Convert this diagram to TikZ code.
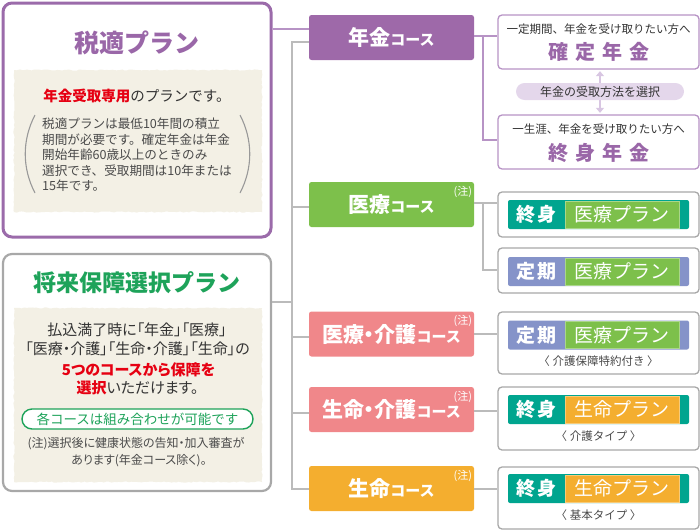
\documentclass[tikz,border=0pt]{standalone}
\usepackage{fontspec}
\setmainfont{Noto Sans CJK JP}
\newfontfamily\jpp{Noto Sans CJK JP}[RawFeature=+palt]
\usetikzlibrary{arrows.meta,decorations.pathmorphing}
\definecolor{pcourse}{HTML}{9E69A9}
\definecolor{pline}{HTML}{B793C5}
\definecolor{ptitle}{HTML}{9A67A8}
\definecolor{pframe}{HTML}{9B6BAA}
\definecolor{lav}{HTML}{E4D7EB}
\definecolor{lavarrow}{HTML}{D8C6E2}
\definecolor{gcourse}{HTML}{7DC04B}
\definecolor{teal}{HTML}{00A58F}
\definecolor{bviolet}{HTML}{8593C9}
\definecolor{pink}{HTML}{F0878A}
\definecolor{orange}{HTML}{F4AE2F}
\definecolor{beige}{HTML}{F3F0E5}
\definecolor{gline}{HTML}{BBBBBB}
\definecolor{gframe}{HTML}{A8A8A8}
\definecolor{gtitle}{HTML}{1EA35A}
\definecolor{jred}{HTML}{E60012}
\definecolor{txt}{HTML}{333333}
\definecolor{txtg}{HTML}{4A4A4A}
\newcommand\myfs[1]{\fontsize{#1}{#1}\selectfont}
\newcommand\jline[1]{\hbox to 191pt{#1}}
\begin{document}
\begin{tikzpicture}[x=1pt,y=-1pt,
  course/.style={fill=#1, rounded corners=2.5pt, minimum width=165pt, minimum height=45pt, inner sep=0pt, text=white, font=\bfseries},
  note/.style={text=white, font=\myfs{11}, inner sep=0pt, anchor=north east, xshift=-2pt, yshift=-4pt},
  rbox/.style={draw=#1, line width=1.3pt, fill=white, rounded corners=4pt, minimum width=201pt, inner sep=0pt},
  banner/.style={fill=#1, rounded corners=2pt, minimum width=181pt, minimum height=29pt, inner sep=0pt},
  inbox/.style={fill=#1, draw=#1!65!white, line width=0.7pt, minimum width=114pt, minimum height=27pt, inner sep=0pt, text=white, font=\myfs{19}},
  blab/.style={text=white, font=\bfseries\myfs{19}, inner sep=0pt},
  sub/.style={text=txtg, font=\myfs{11.5}, inner sep=0pt},
  plin/.style={draw=pline, line width=2pt},
  glin/.style={draw=gline, line width=2pt},
  rough/.style={fill=beige, decorate, decoration={random steps, segment length=2.5pt, amplitude=0.6pt}},
  paren/.style={draw=gray!80, line width=1.1pt}
]
\useasboundingbox (0,0) rectangle (700,530);
\pgfmathsetseed{7}

% ---------- connectors ----------
\coordinate (pY) at (0,29);
\coordinate (tTop) at (292,42);
\coordinate (tBot) at (292,489);
\coordinate (tM) at (292,302);
\coordinate (t1) at (292,207);
\coordinate (t3) at (292,337);
\coordinate (t4) at (292,413);
\coordinate (r1) at (483,36);
\coordinate (r1b) at (483,140);
\coordinate (r2) at (483,203);
\coordinate (r2b) at (483,270);
\coordinate (r3) at (483,334);
\coordinate (r4) at (483,411);
\coordinate (r5) at (483,489);

% ---------- left boxes ----------
\node[draw=pframe, line width=3pt, rounded corners=9pt, minimum width=268pt, minimum height=234pt, fill=white] (zei) at (137,120) {};
\node[draw=gframe, line width=2.2pt, rounded corners=9pt, minimum width=268pt, minimum height=237pt, fill=white] (shorai) at (137,372.5) {};

\fill[rough] (14,70) rectangle (262,212);
\fill[rough] (14,308) rectangle (262,482);

\node[text=ptitle, font=\bfseries\myfs{25}] (zeiT) at (137,43) {税適プラン};
\node[text=txt, font=\myfs{14.5}] (zeiA) at (137,96) {\textcolor{jred}{\bfseries 年金受取専用}のプランです。};
\node[text=txtg, font=\fontsize{12.6}{15.5}\selectfont, align=left, anchor=west, inner sep=0pt] (zeiB) at (42,155)
 {\XeTeXlinebreaklocale "ja"\XeTeXlinebreakskip=0pt plus 1pt minus 0.3pt
  \jline{税適プランは最低10年間の積立}\\\jline{期間が必要です。確定年金は年金}\\\jline{開始年齢60歳以上のときのみ}\\\jline{選択でき、受取期間は10年または}\\15年です。};
\draw[paren] (35,115) .. controls (22,140) and (22,168) .. (35,193);
\draw[paren] (240,115) .. controls (253,140) and (253,168) .. (240,193);

\node[text=gtitle, font=\bfseries\myfs{23}] (shoT) at (137,283) {将来保障選択プラン};
\node[text=txt, font=\myfs{15}] (s1) at (137,330) {\jpp 払込満了時に「年金」「医療」};
\node[text=txt, font=\myfs{15}] (s2) at (137.5,349) {\jpp 「医療・介護」「生命・介護」「生命」の};
\node[text=jred, font=\bfseries\myfs{15}] (s3) at (138.5,370) {\jpp 5つのコースから保障を};
\node[text=txt, font=\myfs{15}] (s4) at (137.5,388) {\jpp\textcolor{jred}{\bfseries 選択}いただけます。};
\node[draw=gtitle, line width=1.4pt, fill=white, rounded corners=10pt, minimum width=231pt, minimum height=20pt, inner sep=0pt, text=gtitle, font=\myfs{13.5}] (spill) at (137.5,419) {各コースは組み合わせが可能です};
\node[text=txtg, font=\myfs{12}] (s5) at (136,444) {\jpp (注)選択後に健康状態の告知・加入審査が};
\node[text=txtg, font=\myfs{12}] (s6) at (139,461) {\jpp あります(年金コース除く)。};

% ---------- course boxes ----------
\node[course=pcourse] (nenkin) at (391.5,37.5) {{\myfs{21}年金}{\myfs{15}コース}};
\node[course=gcourse] (iryo) at (391.5,204.5) {{\myfs{21}医療}{\myfs{15}コース}};
\node[course=pink] (iryokaigo) at (391.5,334) {{\jpp\myfs{21}医療・介護}{\myfs{15}コース}};
\node[course=pink] (seimeikaigo) at (391.5,409.5) {{\jpp\myfs{21}生命・介護}{\myfs{15}コース}};
\node[course=orange] (seimei) at (391.5,488.5) {{\myfs{21}生命}{\myfs{15}コース}};
\node[note] (n1) at (iryo.north east) {(注)};
\node[note] (n2) at (iryokaigo.north east) {(注)};
\node[note] (n3) at (seimeikaigo.north east) {(注)};
\node[note] (n4) at (seimei.north east) {(注)};

% ---------- right boxes ----------
\node[rbox=pline, minimum height=54pt] (kakutei) at (598.5,42) {};
\node[rbox=pline, minimum height=54pt] (shushin) at (598.5,142) {};
\node[rbox=gframe, minimum height=45pt] (plan1) at (598.5,214.5) {};
\node[rbox=gframe, minimum height=45pt] (plan2) at (598.5,270.5) {};
\node[rbox=gframe, minimum height=62pt] (plan3) at (598.5,343) {};
\node[rbox=gframe, minimum height=63pt] (plan4) at (598.5,418.5) {};
\node[rbox=gframe, minimum height=62pt] (plan5) at (598.5,498) {};

\node[text=txt, font=\myfs{11.5}] (kakA) at (598.5,29) {一定期間、年金を受け取りたい方へ};
\node[text=ptitle, font=\bfseries\myfs{20}] (kakB) at (598.5,52) {確\kern7pt 定\kern7pt 年\kern7pt 金};
\node[text=txt, font=\myfs{11.5}] (shuA) at (598.5,129) {一生涯、年金を受け取りたい方へ};
\node[text=ptitle, font=\bfseries\myfs{20}] (shuB) at (598.5,153) {終\kern7pt 身\kern7pt 年\kern7pt 金};

\coordinate (ax) at (600,0);
\draw[draw=lavarrow, line width=2.5pt, {Triangle[length=5pt,width=8pt]}-{Triangle[length=5pt,width=8pt]}, shorten <=1.5pt, shorten >=1.5pt] (kakutei.south -| ax) -- (shushin.north -| ax);
\node[fill=lav, rounded corners=8.5pt, minimum width=168pt, minimum height=17pt, inner sep=0pt, text=txt, font=\myfs{12}] (pill) at (600,91.5) {年金の受取方法を選択};

% banners
\node[banner=teal] (b1) at (598.5,214.5) {};
\node[inbox=gcourse] (b1i) at (622,214.5) {医療プラン};
\node[blab] (b1l) at (536.5,214.5) {終\kern1.5pt 身};

\node[banner=bviolet] (b2) at (598.5,271.5) {};
\node[inbox=gcourse] (b2i) at (622,271.5) {医療プラン};
\node[blab] (b2l) at (536.5,271.5) {定\kern1.5pt 期};

\node[banner=bviolet] (b3) at (598.5,335) {};
\node[inbox=gcourse] (b3i) at (622,335) {医療プラン};
\node[blab] (b3l) at (536.5,335) {定\kern1.5pt 期};
\node[sub] (b3s) at (598.5,361) {〈 介護保障特約付き 〉};

\node[banner=teal] (b4) at (598.5,409.5) {};
\node[inbox=orange] (b4i) at (622,409.5) {生命プラン};
\node[blab] (b4l) at (536.5,409.5) {終\kern1.5pt 身};
\node[sub] (b4s) at (598.5,436) {〈 介護タイプ 〉};

\node[banner=teal] (b5) at (598.5,488.5) {};
\node[inbox=orange] (b5i) at (622,488.5) {生命プラン};
\node[blab] (b5l) at (536.5,488.5) {終\kern1.5pt 身};
\node[sub] (b5s) at (598.5,515) {〈 基本タイプ 〉};

% ---------- connector lines ----------
\draw[plin] (zei.east |- pY) -- (nenkin.west |- pY);
\draw[glin] (nenkin.west |- tTop) -- (tTop) -- (tBot) -- (seimei.west |- tBot);
\draw[glin] (shorai.east |- tM) -- (tM);
\draw[glin] (t1) -- (iryo.west |- t1);
\draw[glin] (t3) -- (iryokaigo.west |- t3);
\draw[glin] (t4) -- (seimeikaigo.west |- t4);

\draw[plin] (nenkin.east |- r1) -- (kakutei.west |- r1);
\draw[plin] (r1) -- (r1b) -- (shushin.west |- r1b);
\draw[glin] (iryo.east |- r2) -- (plan1.west |- r2);
\draw[glin] (r2) -- (r2b) -- (plan2.west |- r2b);
\draw[glin] (iryokaigo.east |- r3) -- (plan3.west |- r3);
\draw[glin] (seimeikaigo.east |- r4) -- (plan4.west |- r4);
\draw[glin] (seimei.east |- r5) -- (plan5.west |- r5);
\end{tikzpicture}
\end{document}
